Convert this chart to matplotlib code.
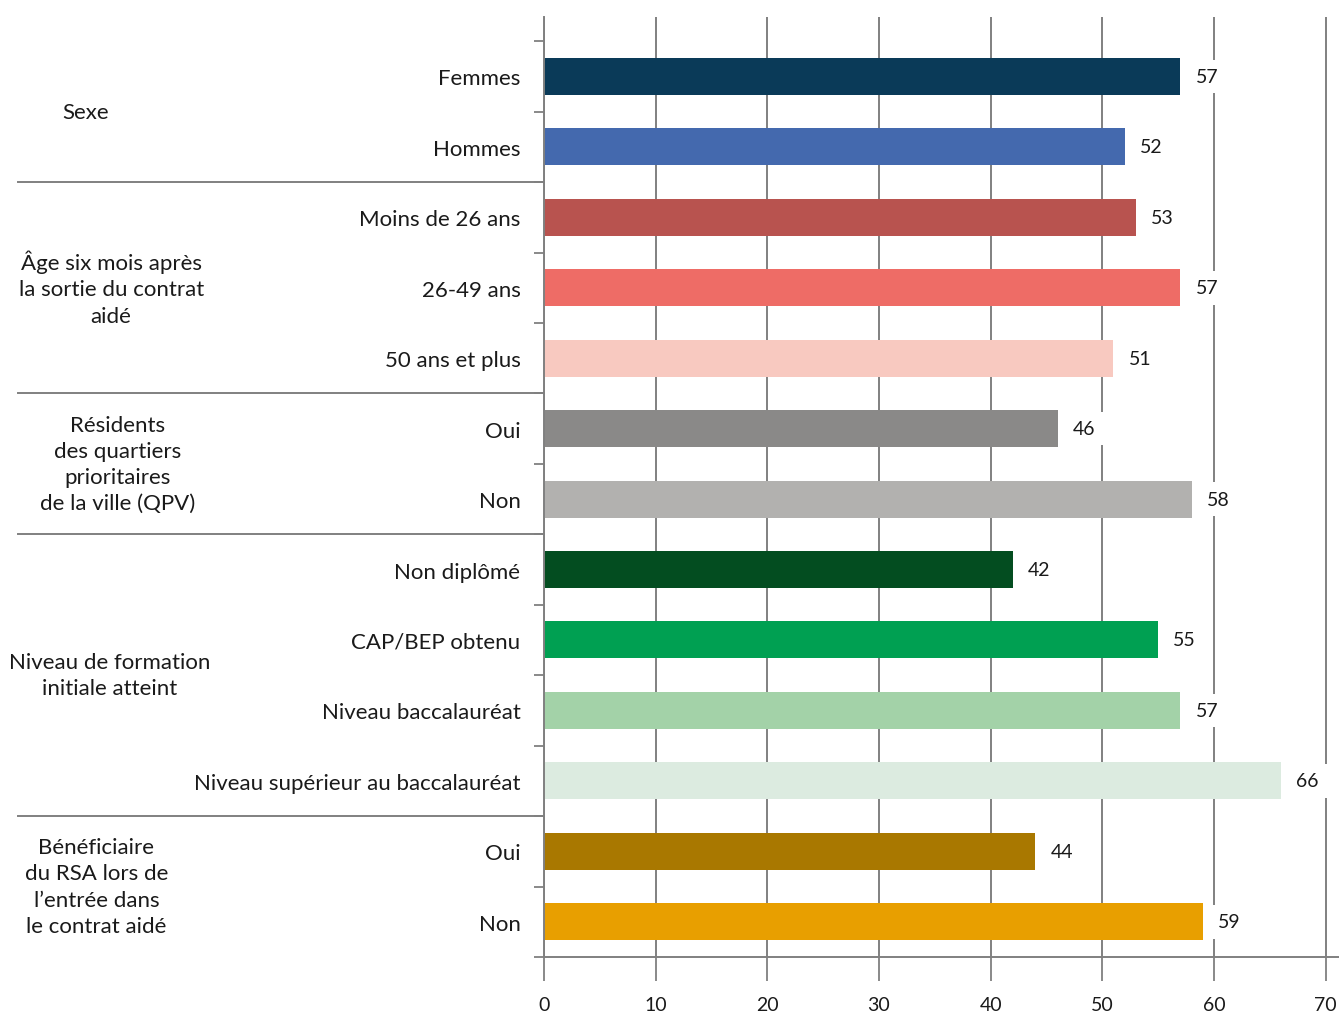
import matplotlib.pyplot as plt
from matplotlib.transforms import blended_transform_factory
from matplotlib.lines import Line2D
import numpy as np

# Données
categories = ["Femmes", "Hommes",
              "Moins de 26 ans", "26-49 ans", "50 ans et plus",
              "Oui", "Non",
              "Non diplômé", "CAP/BEP obtenu", "Niveau baccalauréat",
              "Niveau supérieur au baccalauréat",
              "Oui", "Non"]
valeurs = [57, 52, 53, 57, 51, 46, 58, 42, 55, 57, 66, 44, 59]
couleurs = ["#0a3a58", "#4469ae", "#b8534f", "#ee6c66", "#f8c9c0",
            "#8a8988", "#b2b1af", "#034d20", "#00a052", "#a3d2a8",
            "#dcebe0", "#a97800", "#e89f00"]

groupes = ["Sexe",
           "Âge six mois après\nla sortie du contrat\naidé",
           "Résidents\ndes quartiers\nprioritaires\nde la ville (QPV)",
           "Niveau de formation\ninitiale atteint",
           "Bénéficiaire\ndu RSA lors de\nl\u2019entrée dans\nle contrat aidé"]
taille_groupes = [2, 3, 2, 4, 2]
x_groupes = [0.064, 0.083, 0.088, 0.082, 0.072]

plt.rcParams['font.family'] = ['Lato', 'DejaVu Sans']
gris = '#808080'

fig = plt.figure(figsize=(13.39, 10.12), dpi=100)
ax = fig.add_axes([0.4063, 0.0534, 0.5937, 0.9286])

y = np.arange(len(categories))
ax.barh(y, valeurs, height=0.525, color=couleurs, zorder=2)

for yi, v in zip(y, valeurs):
    ax.annotate(str(v), (v, yi), xytext=(11, 0), textcoords='offset points',
                ha='left', va='center', fontsize=14, color='#1a1a1a', zorder=3,
                bbox=dict(facecolor='white', edgecolor='none', pad=6))

ax.set_xlim(0, 71.2)
ax.set_ylim(12.5, -0.84)
ax.set_xticks(range(0, 71, 10))
ax.xaxis.grid(True, color=gris, linewidth=1.4, zorder=0)
ax.set_axisbelow(True)

ax.set_yticks(y)
ax.set_yticklabels(categories, fontsize=16, color='#1a1a1a')
ax.tick_params(axis='y', which='major', length=0, pad=17)
ax.set_yticks(np.arange(-0.5, 12.6, 1), minor=True)
ax.tick_params(axis='y', which='minor', length=7, width=1.3, color=gris)
ax.tick_params(axis='x', length=17, width=1.3, color=gris, labelsize=14,
               labelcolor='#1a1a1a', pad=11)

for s in ['top', 'right']:
    ax.spines[s].set_visible(False)
for s in ['left', 'bottom']:
    ax.spines[s].set_color(gris)
    ax.spines[s].set_linewidth(1.4)

# séparateurs de groupes et libellés de groupes
trans = blended_transform_factory(fig.transFigure, ax.transData)
debut = 0
for nom, n, xg in zip(groupes, taille_groupes, x_groupes):
    fin = debut + n
    centre = (debut + fin - 1) / 2
    fig.text(xg, 0, nom, transform=trans, ha='center', va='center',
             fontsize=16, color='#1a1a1a', linespacing=1.38)
    fig.texts[-1].set_y(centre)
    if fin < len(categories):
        ax.add_line(Line2D([0.0134, 0.4063], [fin - 0.5, fin - 0.5],
                           transform=trans, color=gris, linewidth=1.4,
                           clip_on=False))
    debut = fin

fig.savefig("out.png", dpi=100, facecolor='white')
